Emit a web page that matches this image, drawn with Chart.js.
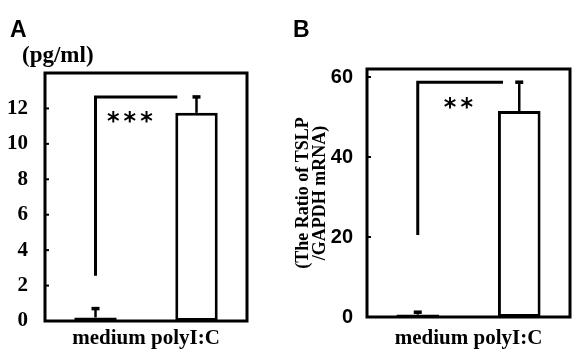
<!DOCTYPE html>
<html>
<head>
<meta charset="utf-8">
<script src="https://cdn.jsdelivr.net/npm/chart.js@4.4.1/dist/chart.umd.min.js"></script>
<style>
  body { margin: 0; background: #fff; }
  #wrap { position: relative; width: 572px; height: 350px; overflow: hidden; }
  canvas { position: absolute; top: 0; }
  .lbl { position: absolute; line-height: 1; color: #000; white-space: nowrap; }
  .panel { font: bold 23px "Liberation Sans", Arial, sans-serif; }
  .unit { font: bold 23px "Liberation Serif", serif; }
</style>
</head>
<body>
<div id="wrap">
  <canvas id="chartA" width="286" height="350" style="left:0"></canvas>
  <canvas id="chartB" width="286" height="350" style="left:286px"></canvas>
  <div class="lbl panel" style="left:10px;top:16px">A</div>
  <div class="lbl panel" style="left:293px;top:16px">B</div>
  <div class="lbl unit" style="left:22px;top:42px">(pg/ml)</div>
</div>
<script>
const categories = ['medium', 'polyI:C'];

// A: TSLP protein (pg/ml)
const proteinMean = [0.2, 11.75];
const proteinErr = [0.5, 0.9];
const proteinTicks = [0, 2, 4, 6, 8, 10, 12];
const proteinBracket = [2.55, 12.65];
const proteinStars = '***';

// B: TSLP / GAPDH mRNA ratio
const mrnaMean = [0.6, 51.5];
const mrnaErr = [0.6, 7.2];
const mrnaTicks = [0, 20, 40, 60];
const mrnaBracket = [20.5, 58.7];
const mrnaStars = '**';

// error bars, significance bracket, frame and inward tick marks
function makeMarks(cfg) {
    return {
        id: 'marks',
        afterDatasetsDraw(chart) {
            const ctx = chart.ctx, x = chart.scales.x, y = chart.scales.y, a = chart.chartArea;
            const meta = chart.getDatasetMeta(0);
            ctx.save();
            ctx.strokeStyle = '#000';
            ctx.fillStyle = '#000';

            cfg.err.forEach((e, i) => {
                const bar = meta.data[i];
                const top = y.getPixelForValue(cfg.mean[i] + e);
                ctx.lineWidth = 2.5;
                ctx.beginPath(); ctx.moveTo(bar.x, bar.y); ctx.lineTo(bar.x, top); ctx.stroke();
                ctx.lineWidth = 3.5;
                ctx.beginPath(); ctx.moveTo(bar.x - 4, top); ctx.lineTo(bar.x + 4, top); ctx.stroke();
            });

            const bx0 = x.getPixelForValue(0), bx1 = x.getPixelForValue(cfg.bracketEnd);
            const byTop = y.getPixelForValue(cfg.bracket[1]);
            ctx.lineWidth = 3;
            ctx.beginPath();
            ctx.moveTo(bx0, y.getPixelForValue(cfg.bracket[0]));
            ctx.lineTo(bx0, byTop);
            ctx.lineTo(bx1, byTop);
            ctx.stroke();

            ctx.font = 'bold 24px "DejaVu Sans", sans-serif';
            ctx.letterSpacing = '4px';
            ctx.textAlign = 'center';
            ctx.textBaseline = 'alphabetic';
            const m = ctx.measureText(cfg.stars);
            const sy = y.getPixelForValue(cfg.starsY) + (m.actualBoundingBoxAscent - m.actualBoundingBoxDescent) / 2;
            ctx.fillText(cfg.stars, x.getPixelForValue(cfg.starsX), sy);

            ctx.lineWidth = 3;
            ctx.strokeRect(a.left, a.top, a.right - a.left, a.bottom - a.top);
            ctx.lineWidth = 2;
            y.ticks.forEach(t => {
                const py = y.getPixelForValue(t.value);
                ctx.beginPath(); ctx.moveTo(a.left, py); ctx.lineTo(a.left + 4, py); ctx.stroke();
            });
            ctx.restore();
        }
    };
}

function makeChart(id, cfg) {
    return new Chart(document.getElementById(id), {
        type: 'bar',
        data: {
            labels: categories,
            datasets: [{
                data: cfg.mean,
                backgroundColor: '#fff',
                borderColor: '#000',
                borderWidth: 3,
                borderSkipped: false,
                barPercentage: 0.42,
                categoryPercentage: 1
            }]
        },
        options: {
            responsive: false,
            animation: false,
            layout: { padding: cfg.padding },
            plugins: { legend: { display: false }, tooltip: { enabled: false } },
            scales: {
                x: {
                    grid: { display: false },
                    border: { display: false },
                    ticks: { display: false },
                    title: {
                        display: true,
                        text: categories.join(' '),
                        color: '#000',
                        font: { family: '"Liberation Serif", serif', size: 21, weight: 'bold', lineHeight: '16px' },
                        padding: { top: 0, bottom: 3.5 }
                    },
                    afterFit: s => { s.height = cfg.xHeight; }
                },
                y: {
                    min: 0,
                    max: cfg.max,
                    grid: { display: false },
                    border: { display: false },
                    afterBuildTicks: s => { s.ticks = cfg.ticks.map(v => ({ value: v })); },
                    ticks: { color: '#000', font: cfg.tickFont, padding: cfg.tickPad },
                    title: cfg.yTitle,
                    afterFit: s => { s.width = cfg.yWidth; }
                }
            }
        },
        plugins: [makeMarks(cfg)]
    });
}

makeChart('chartA', {
    mean: proteinMean, err: proteinErr, ticks: proteinTicks, max: 14,
    bracket: proteinBracket, bracketEnd: 0.81, stars: proteinStars, starsX: 0.36, starsY: 11.5,
    padding: { top: 73, right: 39, left: 0, bottom: 0 },
    xHeight: 29, yWidth: 45, tickPad: 9,
    tickFont: { family: '"Liberation Serif", serif', size: 21, weight: 'bold' },
    yTitle: { display: false }
});

makeChart('chartB', {
    mean: mrnaMean, err: mrnaErr, ticks: mrnaTicks, max: 62,
    bracket: mrnaBracket, bracketEnd: 0.84, stars: mrnaStars, starsX: 0.42, starsY: 53.5,
    padding: { top: 69, right: 2, left: 0, bottom: 0 },
    xHeight: 33, yWidth: 81, tickPad: 6,
    tickFont: { family: '"Liberation Sans", sans-serif', size: 20, weight: 'bold' },
    yTitle: {
        display: true,
        text: ['(The Ratio of TSLP', '/GAPDH mRNA)'],
        color: '#000',
        font: { family: '"Liberation Serif", serif', size: 18, weight: 'bold', lineHeight: '17px' },
        padding: { top: 8.5, bottom: 0 }
    }
});
</script>
</body>
</html>
